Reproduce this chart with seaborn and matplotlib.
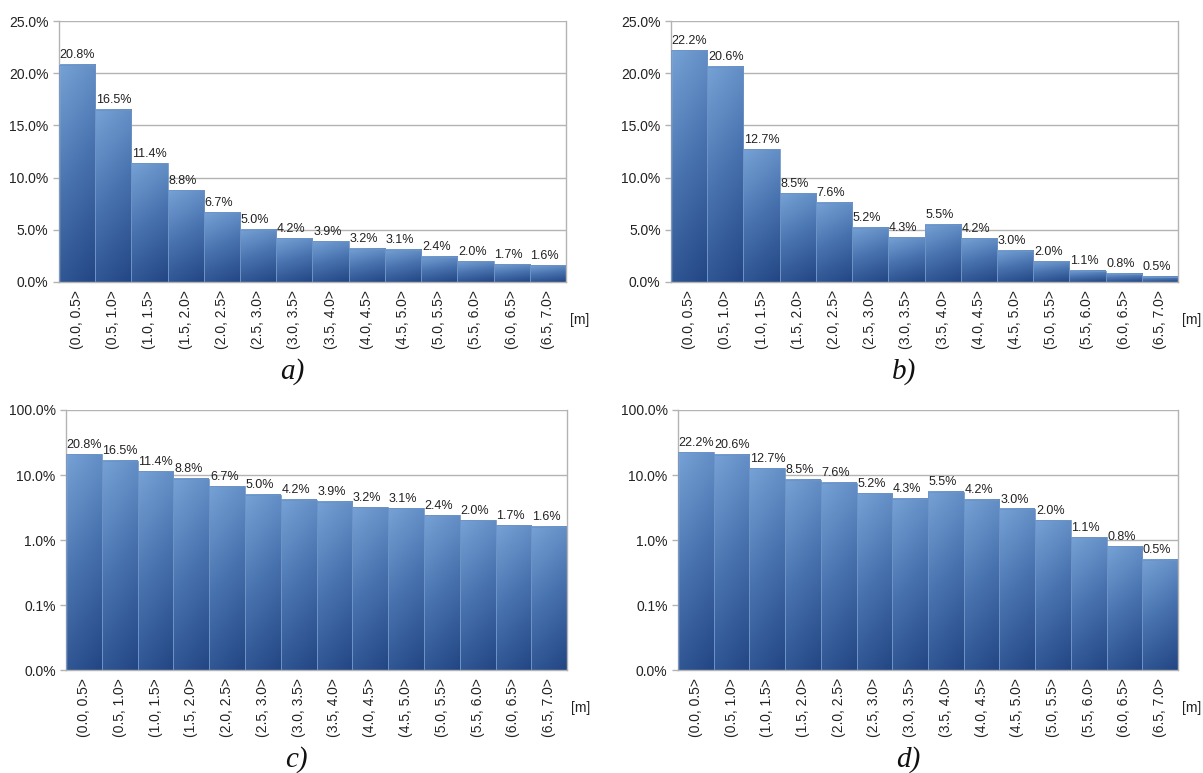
import numpy as np
import pandas as pd
import matplotlib
matplotlib.use("Agg")
import matplotlib.pyplot as plt
import matplotlib.ticker as mtick
from matplotlib.colors import LinearSegmentedColormap
import seaborn as sns

# class intervals [m]
bins = ["(0.0, 0.5>", "(0.5, 1.0>", "(1.0, 1.5>", "(1.5, 2.0>", "(2.0, 2.5>",
        "(2.5, 3.0>", "(3.0, 3.5>", "(3.5, 4.0>", "(4.0, 4.5>", "(4.5, 5.0>",
        "(5.0, 5.5>", "(5.5, 6.0>", "(6.0, 6.5>", "(6.5, 7.0>"]
# share of observations [%]
share_a = [20.8, 16.5, 11.4, 8.8, 6.7, 5.0, 4.2, 3.9, 3.2, 3.1, 2.4, 2.0, 1.7, 1.6]
share_b = [22.2, 20.6, 12.7, 8.5, 7.6, 5.2, 4.3, 5.5, 4.2, 3.0, 2.0, 1.1, 0.8, 0.5]
lin_ticks = [0, 5, 10, 15, 20, 25]
log_ticks = [0.01, 0.1, 1, 10, 100]

sns.set_theme(style="white")
plt.rcParams['font.family'] = ['Liberation Sans', 'DejaVu Sans']

cmap = LinearSegmentedColormap.from_list("bar", ["#76a2d6", "#4771ad", "#224683"])
grid_c = "#b3b3b3"

fig = plt.figure(figsize=(12.03, 7.73), dpi=100)
positions = {
    "a": [0.049, 0.6352, 0.4215, 0.3376],
    "b": [0.5578, 0.6352, 0.4214, 0.3376],
    "c": [0.0549, 0.1332, 0.4165, 0.3364],
    "d": [0.5636, 0.1332, 0.4156, 0.3364],
}
panels = [("a", share_a, False), ("b", share_b, False),
          ("c", share_a, True), ("d", share_b, True)]

# gradient image: light top-left, dark bottom-right
yy, xx = np.mgrid[0:1:200j, 0:1:40j]
grad = 0.8 * yy + 0.2 * xx


def gradient_bars(ax):
    to_axes = ax.transScale + ax.transLimits
    for p in ax.patches:
        x0, y0 = p.get_x(), max(p.get_y(), ax.get_ylim()[0])
        x1, y1 = x0 + p.get_width(), p.get_y() + p.get_height()
        (ax0, ay0), (ax1, ay1) = to_axes.transform([(x0, y0), (x1, y1)])
        p.set_facecolor("none")
        ax.imshow(grad, cmap=cmap, vmin=0, vmax=1, aspect="auto",
                  extent=(ax0, ax1, ay0, ay1), origin="upper",
                  transform=ax.transAxes, zorder=2, interpolation="bilinear")
        ax.add_patch(plt.Rectangle((ax0, ay0), ax1 - ax0, ay1 - ay0,
                                   transform=ax.transAxes, fill=False,
                                   edgecolor="#6e93c6", lw=0.6, zorder=3))


for key, vals, logy in panels:
    ax = fig.add_axes(positions[key])
    df = pd.DataFrame({"bin": bins, "share": vals})
    sns.barplot(data=df, x="bin", y="share", ax=ax, width=1.0,
                color="#4a76b2", linewidth=0, zorder=2)
    ax.set_xlim(-0.5, len(bins) - 0.5)
    if logy:
        ax.set_yscale("log")
        ax.set_ylim(log_ticks[0], log_ticks[-1])
        ax.set_yticks(log_ticks)
        ax.yaxis.set_minor_locator(mtick.NullLocator())
    else:
        ax.set_ylim(lin_ticks[0], lin_ticks[-1])
        ax.set_yticks(lin_ticks)
    ax.yaxis.set_major_formatter(mtick.FormatStrFormatter('%.1f%%'))
    ax.yaxis.grid(True, color=grid_c, lw=1, zorder=0)
    ax.set_axisbelow(True)
    for s in ax.spines.values():
        s.set_color(grid_c)
        s.set_linewidth(1)
    ax.spines["top"].set_visible(False)

    gradient_bars(ax)
    for i, v in enumerate(vals):
        ax.annotate("{:.1f}%".format(v), (i - 0.5, v), xytext=(0.5, 2.5),
                    textcoords="offset points", ha="left", va="bottom",
                    fontsize=9, color="#222222", zorder=4)

    ax.set_xlabel("")
    ax.set_ylabel("")
    ax.set_xticks(range(len(bins)))
    ax.set_xticklabels(bins, rotation=90, fontsize=10, color="#222222")
    ax.tick_params(axis="x", which="major", length=0, pad=6)
    ax.set_xticks(np.arange(-0.5, len(bins), 1), minor=True)
    ax.tick_params(axis="x", which="minor", length=5, color=grid_c, width=1)
    ax.tick_params(axis="y", which="major", length=4, color=grid_c, width=1,
                   labelsize=10, labelcolor="#222222", left=True)

    ax.text(1.008, -0.146, "[m]", transform=ax.transAxes, fontsize=10,
            color="#222222", ha="left", va="center")
    ax.text(0.46, -0.345, key + ")", transform=ax.transAxes, fontsize=21,
            family=["Liberation Serif", "DejaVu Serif"], style="italic",
            ha="center", va="center", color="#111111")

fig.savefig("out.png", dpi=100)
